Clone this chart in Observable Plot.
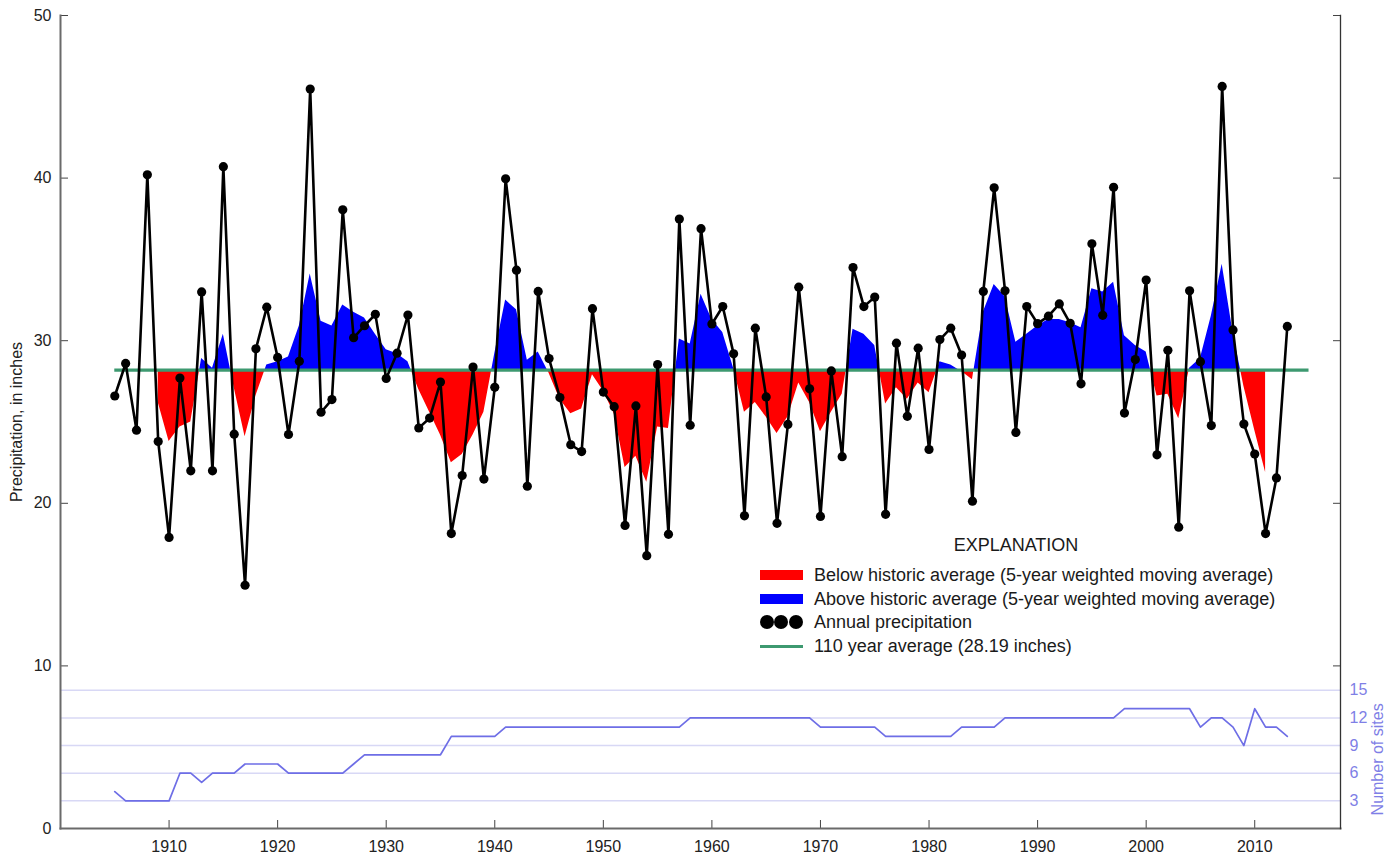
<!DOCTYPE html>
<html>
<head>
<meta charset="utf-8">
<script src="https://cdn.jsdelivr.net/npm/d3@7"></script>
<script src="https://cdn.jsdelivr.net/npm/@observablehq/plot@0.6"></script>
<style>
  html, body { margin: 0; padding: 0; background: #fff; }
  #wrap { position: relative; width: 1393px; height: 858px; font-family: "Liberation Sans", Arial, sans-serif; }
  #legend { position: absolute; left: 0; top: 0; font-size: 18px; color: #1a1a1a; }
  #legend .row { position: absolute; height: 22px; line-height: 22px; white-space: nowrap; }
  #legend .sw { position: absolute; }
</style>
</head>
<body>
<div id="wrap"></div>
<script>
// ---------------- DATA ----------------
const years = [
  1905,1906,1907,1908,1909,
  1910,1911,1912,1913,1914,1915,1916,1917,1918,1919,
  1920,1921,1922,1923,1924,1925,1926,1927,1928,1929,
  1930,1931,1932,1933,1934,1935,1936,1937,1938,1939,
  1940,1941,1942,1943,1944,1945,1946,1947,1948,1949,
  1950,1951,1952,1953,1954,1955,1956,1957,1958,1959,
  1960,1961,1962,1963,1964,1965,1966,1967,1968,1969,
  1970,1971,1972,1973,1974,1975,1976,1977,1978,1979,
  1980,1981,1982,1983,1984,1985,1986,1987,1988,1989,
  1990,1991,1992,1993,1994,1995,1996,1997,1998,1999,
  2000,2001,2002,2003,2004,2005,2006,2007,2008,2009,
  2010,2011,2012,2013
];
// Annual precipitation, inches
const annualPrecip = [
  26.6,28.6,24.5,40.2,23.8,
  17.9,27.7,22.0,33.0,22.0,40.7,24.25,14.96,29.5,32.06,
  28.97,24.23,28.73,45.48,25.6,26.38,38.05,30.18,30.92,31.62,
  27.68,29.23,31.58,24.63,25.24,27.46,18.14,21.71,28.38,21.49,
  27.13,39.96,34.34,21.05,33.03,28.9,26.5,23.6,23.18,31.97,
  26.84,25.94,18.64,25.99,16.78,28.53,18.09,37.48,24.8,36.89,
  31.03,32.1,29.19,19.23,30.77,26.54,18.77,24.85,33.29,27.04,
  19.19,28.14,22.87,34.5,32.1,32.68,19.32,29.85,25.35,29.54,
  23.31,30.07,30.77,29.12,20.13,33.03,39.4,33.07,24.36,32.1,
  31.05,31.51,32.26,31.07,27.35,35.96,31.56,39.43,25.55,28.84,
  33.73,22.98,29.41,18.53,33.07,28.71,24.78,45.64,30.66,24.87,
  23.03,18.14,21.56,30.88
];
// Number of sites
const siteCounts = [
  4,3,3,3,3,
  3,6,6,5,6,6,6,7,7,7,
  7,6,6,6,6,6,6,7,8,8,
  8,8,8,8,8,8,10,10,10,10,
  10,11,11,11,11,11,11,11,11,11,
  11,11,11,11,11,11,11,11,12,12,
  12,12,12,12,12,12,12,12,12,12,
  11,11,11,11,11,11,10,10,10,10,
  10,10,10,11,11,11,11,12,12,12,
  12,12,12,12,12,12,12,12,13,13,
  13,13,13,13,13,11,12,12,11,9,
  13,11,11,10
];
// 5-year weighted moving average (read from the filled areas)
const maYears = [
  1909,
  1910,1911,1912,1913,1914,1915,1916,1917,1918,1919,
  1920,1921,1922,1923,1924,1925,1926,1927,1928,1929,
  1930,1931,1932,1933,1934,1935,1936,1937,1938,1939,
  1940,1941,1942,1943,1944,1945,1946,1947,1948,1949,
  1950,1951,1952,1953,1954,1955,1956,1957,1958,1959,
  1960,1961,1962,1963,1964,1965,1966,1967,1968,1969,
  1970,1971,1972,1973,1974,1975,1976,1977,1978,1979,
  1980,1981,1982,1983,1984,1985,1986,1987,1988,1989,
  1990,1991,1992,1993,1994,1995,1996,1997,1998,1999,
  2000,2001,2002,2003,2004,2005,2006,2007,2008,2009,
  2010,2011
];
const maValues = [
  26.2,
  23.8,24.7,25.0,28.9,28.3,30.4,27.1,24.1,26.6,28.5,
  28.7,29.0,30.9,34.1,31.2,30.9,32.2,31.75,31.4,30.4,
  29.45,29.2,28.7,27.0,25.6,24.2,22.5,23.0,24.2,25.6,
  29.2,32.5,31.9,28.8,29.3,28.0,26.4,25.5,25.8,27.9,
  26.9,25.5,22.2,22.9,21.3,24.7,24.6,30.1,29.8,32.85,
  31.3,30.5,28.3,25.6,26.2,25.3,24.3,25.3,27.4,26.2,
  24.4,25.6,26.7,30.7,30.4,29.7,26.1,27.1,26.4,27.4,
  26.8,28.7,28.5,28.1,27.6,31.75,33.45,32.7,29.9,30.4,
  30.9,31.3,31.3,31.1,30.8,33.2,33.0,33.6,30.3,29.7,
  29.3,26.6,26.7,25.2,28.3,28.9,31.5,34.7,30.5,27.2,
  24.5,21.9
];
const historicAverage = 28.19;
const averageSpan = [1905, 2015];
const xDomain = [1900, 2017.9];
const yDomain = [0, 50];
const xTicks = [1910,1920,1930,1940,1950,1960,1970,1980,1990,2000,2010];
const yTicks = [0,10,20,30,40,50];
const yTicksRight = [10,20,30,40,50];
const siteTicks = [3,6,9,12,15];
const siteAxisTop = 15;          // sites value aligned with 8.5 inches
const siteAxisTopInches = 8.5;
const SITE_K = siteAxisTopInches / siteAxisTop;

const legendTitle = "EXPLANATION";
const legendLabels = [
  "Below historic average (5-year weighted moving average)",
  "Above historic average (5-year weighted moving average)",
  "Annual precipitation",
  "110 year average (28.19 inches)"
];

// ---------------- COLORS ----------------
const RED = "#ff0000", BLUE = "#0000ff", GREEN = "#3d9970", SITE = "#6e6ee6", SITE_TXT = "#7f7fe6", GRID = "#d8d8f5", AXIS = "#6a6a6a";

// ---------------- TABLES ----------------
const precip = years.map((y, i) => ({year: y, value: annualPrecip[i]}));
const ma = maYears.map((y, i) => ({year: y, value: maValues[i]}));
const sites = years.map((y, i) => ({year: y, n: siteCounts[i], yv: siteCounts[i] * SITE_K}));

const chart = Plot.plot({
  width: 1393,
  height: 858,
  marginLeft: 60,
  marginRight: 53,
  marginTop: 15,
  marginBottom: 30,
  x: {domain: xDomain},
  y: {domain: yDomain},
  style: {fontFamily: "'Liberation Sans', Arial, sans-serif", fontSize: "16px", color: "#222", background: "#fff"},
  marks: [
    Plot.ruleY(siteTicks.map(n => n * SITE_K), {stroke: GRID, strokeWidth: 1.5}),
    Plot.areaY(ma, {x: "year", y1: () => historicAverage, y2: "value", fill: BLUE, className: "maabove"}),
    Plot.areaY(ma, {x: "year", y1: () => historicAverage, y2: "value", fill: RED, className: "mabelow"}),
    Plot.line(sites, {x: "year", y: "yv", stroke: SITE, strokeWidth: 1.7}),
    Plot.ruleY([historicAverage], {x1: averageSpan[0], x2: averageSpan[1], stroke: GREEN, strokeWidth: 3.2}),
    Plot.line(precip, {x: "year", y: "value", stroke: "#000", strokeWidth: 2.6}),
    Plot.dot(precip, {x: "year", y: "value", r: 4.6, fill: "#000"}),
    // left axis labels
    Plot.axisY(yTicks, {anchor: "left", tickSize: 0, tickPadding: 9, fontSize: 16, color: "#222",
      label: "Precipitation, in inches", labelAnchor: "center", labelOffset: 50, labelArrow: "none"}),
    // inward ticks
    Plot.axisY(yTicks, {anchor: "left", tickSize: 8, dx: 8, fill: "none", stroke: "#444", label: null}),
    Plot.axisY(yTicksRight, {anchor: "right", tickSize: 8, dx: -8, fill: "none", stroke: "#444", label: null}),
    Plot.axisX(xTicks, {anchor: "bottom", tickSize: 8, dy: -8, fill: "none", stroke: "#444", label: null}),
    Plot.axisX(xTicks, {anchor: "bottom", tickSize: 0, tickPadding: 12, fontSize: 16, color: "#222",
      tickFormat: d => String(d), label: null}),
    // right axis: number of sites
    Plot.axisY(siteTicks.map(n => n * SITE_K), {anchor: "right", tickSize: 0, tickPadding: 9, fontSize: 16,
      color: SITE_TXT, tickFormat: d => String(Math.round(d / SITE_K)), label: null}),
    Plot.text(["Number of sites"], {frameAnchor: "right", y: () => (siteAxisTop / 2) * SITE_K, dx: 37,
      rotate: -90, fill: SITE_TXT, fontSize: 16, textAnchor: "middle"}),
    Plot.frame({anchor: "left", stroke: AXIS, strokeWidth: 2}),
    Plot.frame({anchor: "bottom", stroke: AXIS, strokeWidth: 2}),
    Plot.frame({anchor: "right", stroke: "#333", strokeWidth: 1.3})
  ]
});

// Clip the moving-average area: blue above the average line, red below it.
const ns = "http://www.w3.org/2000/svg";
const yPix = chart.scale("y").apply(historicAverage);
const defs = document.createElementNS(ns, "defs");
function addClip(id, y, h) {
  const cp = document.createElementNS(ns, "clipPath");
  cp.setAttribute("id", id);
  const r = document.createElementNS(ns, "rect");
  r.setAttribute("x", 0); r.setAttribute("y", y);
  r.setAttribute("width", 1393); r.setAttribute("height", h);
  cp.appendChild(r); defs.appendChild(cp);
}
addClip("clipAbove", 0, yPix);
addClip("clipBelow", yPix, 858 - yPix);
chart.insertBefore(defs, chart.firstChild);
const ga = chart.querySelector("g.maabove");
const gb = chart.querySelector("g.mabelow");
if (ga) ga.setAttribute("clip-path", "url(#clipAbove)");
if (gb) gb.setAttribute("clip-path", "url(#clipBelow)");

const wrap = document.getElementById("wrap");
wrap.appendChild(chart);

// ---------------- LEGEND (HTML overlay) ----------------
const legend = document.createElement("div");
legend.id = "legend";
const title = document.createElement("div");
title.textContent = legendTitle;
title.style.cssText = "position:absolute;left:1016px;top:545px;transform:translate(-50%,-50%);white-space:nowrap;";
legend.appendChild(title);
const rowCenters = [575, 599, 622, 646];
legendLabels.forEach((lab, i) => {
  const row = document.createElement("div");
  row.className = "row";
  row.style.left = "814px";
  row.style.top = (rowCenters[i] - 11) + "px";
  row.textContent = lab;
  legend.appendChild(row);
  if (i === 0 || i === 1) {
    const sw = document.createElement("div");
    sw.className = "sw";
    sw.style.cssText = `left:760px;top:${rowCenters[i] - 5}px;width:43px;height:10px;background:${i === 0 ? RED : BLUE};`;
    legend.appendChild(sw);
  } else if (i === 2) {
    [767, 781, 796].forEach(cx => {
      const d = document.createElement("div");
      d.className = "sw";
      d.style.cssText = `left:${cx - 7}px;top:${rowCenters[i] - 7}px;width:14px;height:14px;border-radius:50%;background:#000;`;
      legend.appendChild(d);
    });
  } else {
    const sw = document.createElement("div");
    sw.className = "sw";
    sw.style.cssText = `left:760px;top:${rowCenters[i] - 1.5}px;width:43px;height:3px;background:${GREEN};`;
    legend.appendChild(sw);
  }
});
wrap.appendChild(legend);
</script>
</body>
</html>
